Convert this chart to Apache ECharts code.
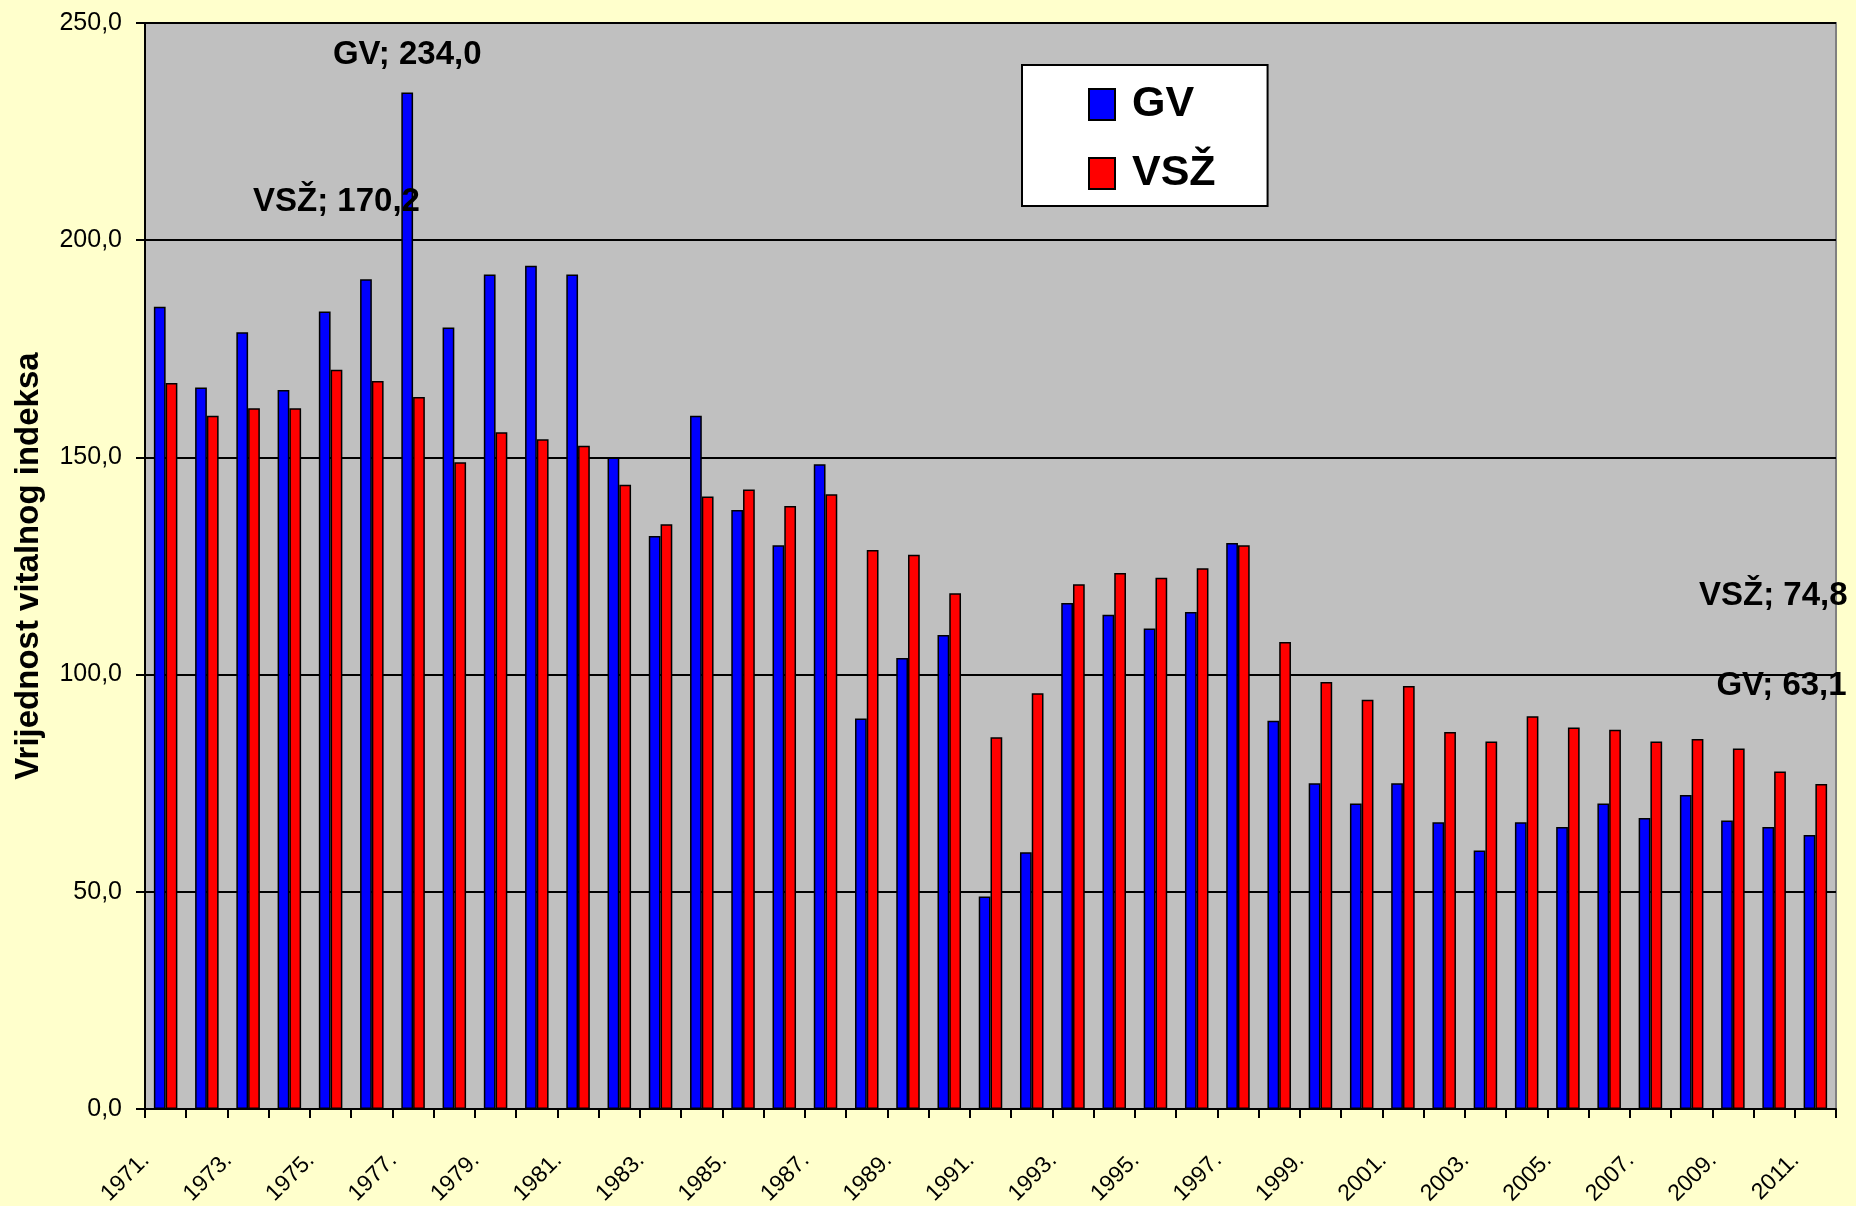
<!DOCTYPE html>
<html>
<head>
<meta charset="utf-8">
<title>Vrijednost vitalnog indeksa</title>
<script src="https://cdn.jsdelivr.net/npm/echarts@6/dist/echarts.min.js"></script>
<style>
	html, body { margin: 0; padding: 0; background: #FFFFCC; }
	#main { width: 1856px; height: 1206px; }
</style>
</head>
<body>
<div id="main"></div>
<script>
// years 1971. - 2011.
var years = [1971, 1972, 1973, 1974, 1975, 1976, 1977, 1978, 1979, 1980,
	1981, 1982, 1983, 1984, 1985, 1986, 1987, 1988, 1989, 1990,
	1991, 1992, 1993, 1994, 1995, 1996, 1997, 1998, 1999, 2000,
	2001, 2002, 2003, 2004, 2005, 2006, 2007, 2008, 2009, 2010, 2011];

// GV series (blue)
var gvValues = [184.7, 166.1, 178.8, 165.5, 183.6, 191.0, 234.0, 179.9, 192.1, 194.1,
	192.1, 150.0, 131.9, 159.6, 137.9, 129.8, 148.4, 89.9, 103.8, 109.1,
	48.9, 59.1, 116.5, 113.8, 110.6, 114.4, 130.3, 89.4, 75.0, 70.3,
	75.0, 66.0, 59.5, 66.0, 64.9, 70.3, 67.0, 72.3, 66.4, 64.9, 63.1];

// VSŽ series (red)
var vszValues = [167.1, 159.6, 161.3, 161.3, 170.2, 167.6, 163.9, 148.9, 155.8, 154.2,
	152.7, 143.7, 134.6, 141.0, 142.6, 138.8, 141.5, 128.7, 127.6, 118.7,
	85.6, 95.7, 120.8, 123.4, 122.3, 124.5, 129.8, 107.5, 98.3, 94.2,
	97.4, 86.8, 84.6, 90.4, 87.8, 87.3, 84.6, 85.2, 83.0, 77.7, 74.8];

var yTicks = [0, 50, 100, 150, 200, 250];

var seriesNames = ['GV', 'VSŽ'];

var FONT = "'Liberation Sans', Arial, sans-serif";

function fmt(v) {
	return v.toFixed(1).replace('.', ',');
}

/**
 * Build bar data, with a callout label on the marked points
 * labels: { index: [dx, dy] }
 */
function buildData(values, name, labels) {
	return values.map(function(v, i) {
		if (!labels[i]) return v;
		return {
			value: v,
			label: {
				show: true,
				position: 'top',
				offset: labels[i],
				formatter: name + '; ' + fmt(v),
				fontFamily: FONT,
				fontWeight: 'bold',
				fontSize: 33,
				color: '#000'
			}
		};
	});
}

var myChart = echarts.init(document.getElementById('main'), null, { renderer: 'canvas' });

var option = {
	animation: false,
	backgroundColor: '#FFFFCC',
	grid: {
		left: 145,
		right: 20,
		top: 23,
		bottom: 97,
		outerBoundsMode: 'none',
		containLabel: false,
		show: true,
		backgroundColor: '#C0C0C0',
		borderColor: '#808080',
		borderWidth: 2
	},
	legend: {
		orient: 'vertical',
		left: 1022,
		top: 65,
		data: seriesNames,
		icon: 'rect',
		itemWidth: 26,
		itemHeight: 31,
		itemGap: 26,
		padding: [18, 52, 11, 66],
		backgroundColor: '#FFFFFF',
		borderColor: '#000000',
		borderWidth: 2,
		formatter: function(name) { return ' ' + name; },
		textStyle: {
			fontFamily: FONT,
			fontWeight: 'bold',
			fontSize: 43,
			color: '#000'
		}
	},
	xAxis: {
		type: 'category',
		data: years.map(function(y) { return y + '.'; }),
		boundaryGap: true,
		axisLine: { show: true, lineStyle: { color: '#000', width: 2 } },
		axisTick: { show: true, interval: 0, length: 9, lineStyle: { color: '#000', width: 2 } },
		axisLabel: {
			interval: 1,
			rotate: 45,
			margin: 28,
			padding: [0, 28, 0, 0],
			fontFamily: FONT,
			fontSize: 23,
			color: '#000'
		},
		splitLine: { show: false }
	},
	yAxis: {
		type: 'value',
		min: yTicks[0],
		max: yTicks[yTicks.length - 1],
		interval: yTicks[1] - yTicks[0],
		name: 'Vrijednost vitalnog indeksa',
		nameLocation: 'middle',
		nameGap: 100,
		nameRotate: 90,
		nameTextStyle: {
			fontFamily: FONT,
			fontWeight: 'bold',
			fontSize: 33,
			color: '#000'
		},
		axisLine: { show: true, lineStyle: { color: '#000', width: 2 } },
		axisTick: { show: true, length: 9, lineStyle: { color: '#000', width: 2 } },
		axisLabel: {
			margin: 23,
			fontFamily: FONT,
			fontSize: 25,
			color: '#000',
			formatter: function(v) { return fmt(v); }
		},
		splitLine: { show: true, lineStyle: { color: '#000', width: 2 } }
	},
	series: [
		{
			name: seriesNames[0],
			type: 'bar',
			barGap: '0%',
			barCategoryGap: '43%',
			itemStyle: { color: '#0000FF', borderColor: '#000', borderWidth: 1.5 },
			data: buildData(gvValues, seriesNames[0], { 6: [0, -16], 40: [-28, -127] })
		},
		{
			name: seriesNames[1],
			type: 'bar',
			barGap: '0%',
			barCategoryGap: '43%',
			itemStyle: { color: '#FF0000', borderColor: '#000', borderWidth: 1.5 },
			data: buildData(vszValues, seriesNames[1], { 4: [0, -146], 40: [-48, -167] })
		}
	]
};

// Load data into the ECharts instance
myChart.setOption(option);
</script>
</body>
</html>
